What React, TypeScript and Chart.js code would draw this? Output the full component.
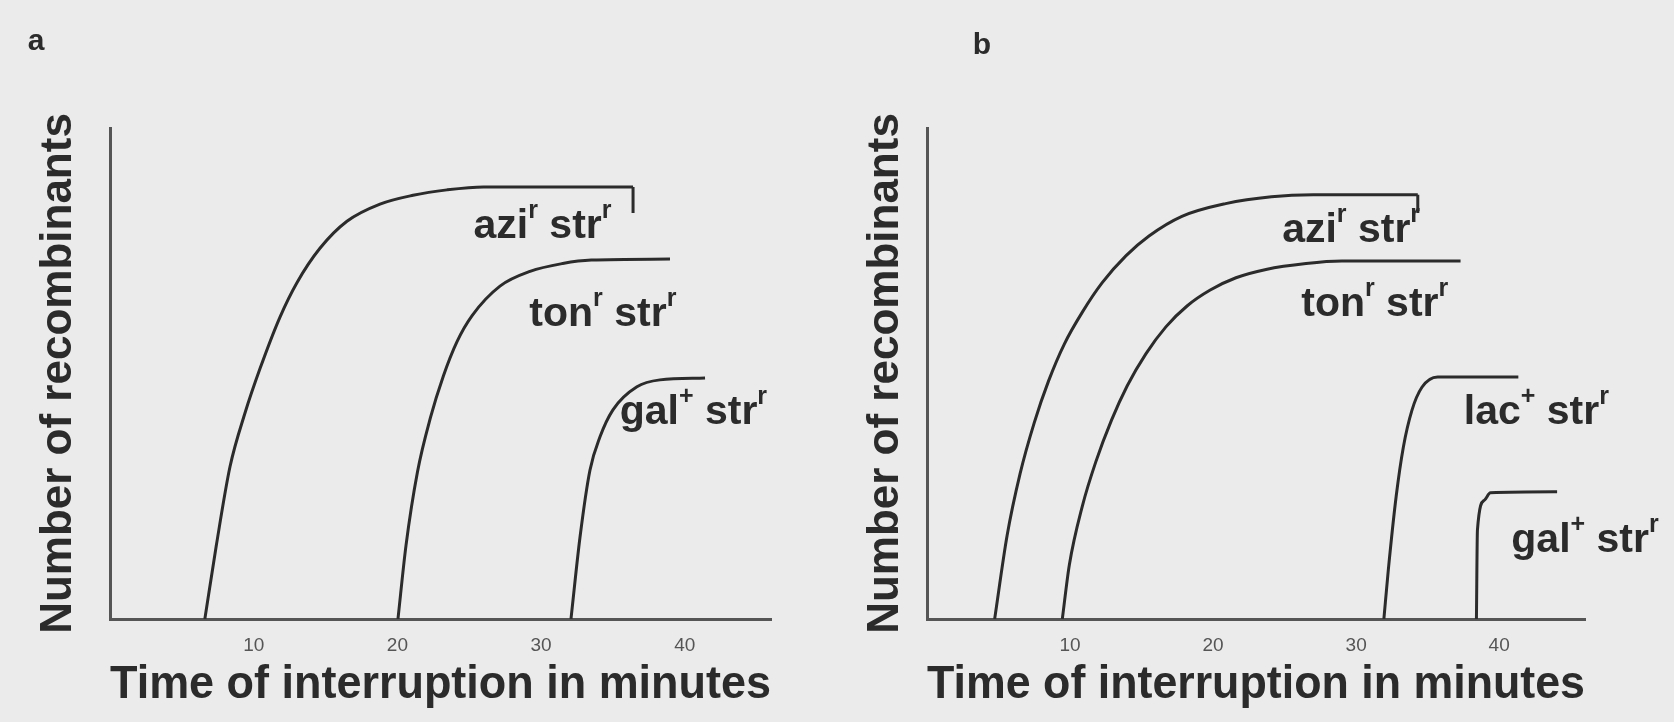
import React, { useEffect, useRef } from 'react';
import { Chart, registerables } from 'chart.js';

Chart.register(...registerables);

const FAMILY = '"Liberation Sans", Arial, Helvetica, sans-serif';
const INK = '#2b2b2b';
const AXIS = '#555555';

const xTicks = [10, 20, 30, 40];
const xTitle = 'Time of interruption in minutes';
const yTitle = 'Number of recombinants';

// ---- panel a ----
const aAziX = [6.6, 7.4, 8.35, 9.4, 10.44, 11.83, 13.01, 14.61, 16.49, 18.79, 21.09, 23.45, 26.0, 36.4];
const aAziY = [0, 15, 31, 42, 51, 61.5, 68.5, 75.5, 81, 84.5, 86.3, 87.4, 88.0, 88.0];
const aTonX = [20.04, 20.6, 21.4, 22.3, 23.2, 24.15, 25.2, 27.14, 29.23, 31.5, 33.5, 38.97];
const aTonY = [0, 15, 30, 41, 49.5, 56.5, 61.8, 67.8, 70.8, 72.4, 73.1, 73.3];
const aGalX = [32.08, 32.71, 33.4, 34.1, 35.0, 36.67, 38.27, 41.41];
const aGalY = [0, 16.7, 30.3, 37.1, 42.6, 47.3, 48.7, 49.1];
const aBracketX = [36.4];
const aBracketTop = [88.0];
const aBracketBottom = [82.7];
const aLabelGene = ['azi', 'ton', 'gal'];
const aLabelSup = ['r', 'r', '+'];
const aLabelX = [30.1, 34.3, 40.6];
const aLabelY = [80.0, 62.0, 42.0];

// ---- panel b ----
const bAziX = [4.73, 5.6, 6.5, 7.5, 8.5, 9.6, 10.86, 12.25, 13.92, 15.52, 17.82, 20.88, 24.08, 27.0, 34.31];
const bAziY = [0, 17, 29.5, 40, 48.5, 56, 62.5, 68.5, 74, 78, 82, 84.6, 86.0, 86.4, 86.4];
const bTonX = [9.46, 9.95, 10.86, 11.8, 12.9, 14.0, 15.3, 16.7, 18.2, 19.8, 21.6, 23.7, 26.5, 29.0, 37.3];
const bTonY = [0, 11, 23, 32, 40.5, 47.5, 54, 59.5, 63.8, 67, 69.5, 71.2, 72.4, 72.9, 72.9];
const bLacX = [31.94, 32.25, 32.8, 33.3, 33.9, 34.6, 35.7, 41.34];
const bLacY = [0, 10, 25, 35, 42.5, 47.2, 49.3, 49.3];
const bGalX = [38.41, 38.48, 38.97, 39.39, 44.05];
const bGalY = [0, 18.1, 24.2, 25.7, 25.9];
const bBracketX = [34.31];
const bBracketTop = [86.4];
const bBracketBottom = [82.7];
const bLabelGene = ['azi', 'ton', 'lac', 'gal'];
const bLabelSup = ['r', 'r', '+', '+'];
const bLabelX = [29.65, 31.3, 42.6, 46.0];
const bLabelY = [79.0, 64.0, 42.0, 16.0];

const zip = (xs: number[], ys: number[]) => xs.map((x, i) => ({ x, y: ys[i] }));

const curveLabelsPlugin = {
  id: 'curveLabels',
  afterDatasetsDraw(chart: any, _args: any, opts: any) {
    const { ctx } = chart;
    const xs = chart.scales.x;
    const ys = chart.scales.y;
    const size = opts.size;
    const baseFont = `bold ${size}px ${FAMILY}`;
    const supFont = `bold ${Math.round(size * 0.62)}px ${FAMILY}`;
    ctx.save();
    ctx.fillStyle = INK;
    ctx.textBaseline = 'middle';
    ctx.textAlign = 'left';
    opts.genes.forEach((g: string, i: number) => {
      const parts: [string, string, number][] = [
        [g, baseFont, 0],
        [opts.sups[i], supFont, -size * 0.38],
        [' str', baseFont, 0],
        ['r', supFont, -size * 0.38],
      ];
      let total = 0;
      const widths = parts.map(([t, f]) => {
        ctx.font = f;
        const w = ctx.measureText(t).width;
        total += w;
        return w;
      });
      let cx = xs.getPixelForValue(opts.xs[i]) - total / 2;
      const cy = ys.getPixelForValue(opts.ys[i]);
      parts.forEach(([t, f, dy], k) => {
        ctx.font = f;
        ctx.fillText(t, cx, cy + dy);
        cx += widths[k];
      });
    });
    ctx.restore();
  },
};

const panelLetterPlugin = {
  id: 'panelLetter',
  afterDraw(chart: any, _args: any, opts: any) {
    const { ctx } = chart;
    ctx.save();
    ctx.fillStyle = INK;
    ctx.font = `bold 30px ${FAMILY}`;
    ctx.textAlign = 'center';
    ctx.textBaseline = 'middle';
    ctx.fillText(opts.text, opts.x, opts.y);
    ctx.restore();
  },
};

type PanelProps = {
  left: number;
  curves: { x: number[]; y: number[] }[];
  brackets: { x: number[]; top: number[]; bottom: number[] };
  labels: { genes: string[]; sups: string[]; xs: number[]; ys: number[] };
  letter: { text: string; x: number; y: number };
  yWidth: number;
  padRight: number;
  yTitlePad: number;
};

function Panel(p: PanelProps) {
  const ref = useRef<HTMLCanvasElement>(null);
  useEffect(() => {
    if (!ref.current) return;
    const datasets: any[] = p.curves.map((c) => ({
      data: zip(c.x, c.y),
      showLine: true,
      borderColor: INK,
      borderWidth: 3,
      pointRadius: 0,
      cubicInterpolationMode: 'monotone',
      fill: false,
    }));
    p.brackets.x.forEach((bx, i) => {
      datasets.push({
        data: [
          { x: bx, y: p.brackets.top[i] },
          { x: bx, y: p.brackets.bottom[i] },
        ],
        showLine: true,
        borderColor: INK,
        borderWidth: 3,
        pointRadius: 0,
        tension: 0,
      });
    });
    const chart = new Chart(ref.current, {
      type: 'scatter',
      data: { datasets },
      plugins: [curveLabelsPlugin, panelLetterPlugin],
      options: {
        responsive: false,
        animation: false,
        layout: { padding: { left: 0, right: p.padRight, top: 128, bottom: 0 } },
        plugins: {
          legend: { display: false },
          tooltip: { enabled: false },
          curveLabels: { ...p.labels, size: 41 },
          panelLetter: p.letter,
        } as any,
        scales: {
          x: {
            type: 'linear',
            min: 0,
            max: 46,
            grid: { display: false, drawTicks: false },
            border: { display: true, color: AXIS, width: 3 },
            ticks: { color: '#555555', font: { size: 19, family: FAMILY }, padding: 15 },
            title: {
              display: true,
              text: xTitle,
              color: INK,
              font: { size: 46, weight: 'bold', family: FAMILY },
              padding: { top: 0, bottom: 9 },
            },
            afterBuildTicks: (s: any) => {
              s.ticks = xTicks.map((v) => ({ value: v }));
            },
            afterFit: (s: any) => {
              s.height = 103;
            },
          },
          y: {
            type: 'linear',
            min: 0,
            max: 100,
            grid: { display: false, drawTicks: false },
            border: { display: true, color: AXIS, width: 3 },
            ticks: { display: false },
            title: {
              display: true,
              text: yTitle,
              color: INK,
              font: { size: 44, weight: 'bold', family: FAMILY },
              padding: { top: p.yTitlePad, bottom: 0 },
            },
            afterFit: (s: any) => {
              s.width = p.yWidth;
            },
          },
        } as any,
      },
    });
    return () => chart.destroy();
  }, []);
  return (
    <canvas
      ref={ref}
      width={837}
      height={722}
      style={{ position: 'absolute', left: p.left, top: 0, width: 837, height: 722, display: 'block' }}
    />
  );
}

export default function App() {
  return (
    <div
      style={{
        position: 'absolute',
        left: 0,
        top: 0,
        width: 1674,
        height: 722,
        background: '#ebebeb',
        overflow: 'hidden',
      }}
    >
      <Panel
        left={0}
        curves={[
          { x: aAziX, y: aAziY },
          { x: aTonX, y: aTonY },
          { x: aGalX, y: aGalY },
        ]}
        brackets={{ x: aBracketX, top: aBracketTop, bottom: aBracketBottom }}
        labels={{ genes: aLabelGene, sups: aLabelSup, xs: aLabelX, ys: aLabelY }}
        letter={{ text: 'a', x: 36, y: 42 }}
        yWidth={110}
        padRight={66}
        yTitlePad={32}
      />
      <Panel
        left={837}
        curves={[
          { x: bAziX, y: bAziY },
          { x: bTonX, y: bTonY },
          { x: bLacX, y: bLacY },
          { x: bGalX, y: bGalY },
        ]}
        brackets={{ x: bBracketX, top: bBracketTop, bottom: bBracketBottom }}
        labels={{ genes: bLabelGene, sups: bLabelSup, xs: bLabelX, ys: bLabelY }}
        letter={{ text: 'b', x: 145, y: 46 }}
        yWidth={90}
        padRight={89}
        yTitlePad={22}
      />
    </div>
  );
}
